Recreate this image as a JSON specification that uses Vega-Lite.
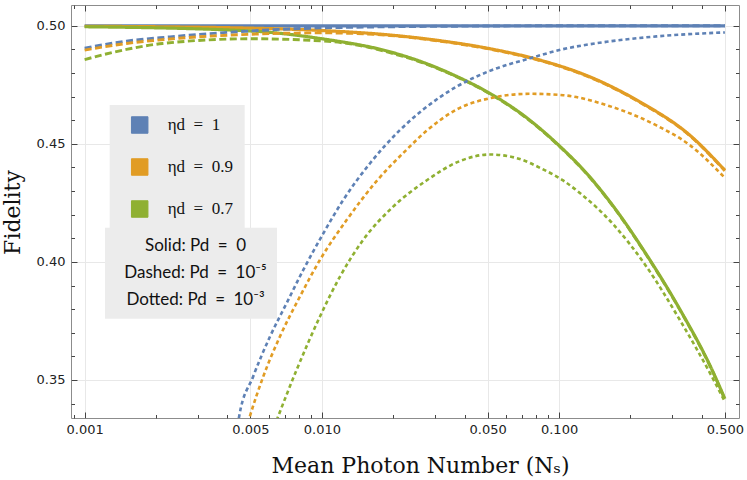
{
  "$schema": "https://vega.github.io/schema/vega-lite/v6.json",
  "width": 668,
  "height": 413,
  "autosize": "none",
  "padding": {"left": 71, "top": 5, "right": 8, "bottom": 62},
  "background": "white",
  "config": {
    "view": {"stroke": "#8c8c8c", "strokeWidth": 1},
    "axis": {
      "domain": false,
      "ticks": true,
      "tickColor": "#444444",
      "tickWidth": 1,
      "labelColor": "#222222",
      "labelFont": "DejaVu Sans",
      "labelFontSize": 13,
      "gridColor": "#e8e8e8",
      "gridWidth": 1,
      "titleColor": "#111111",
      "titleFont": "DejaVu Serif",
      "titleFontSize": 22,
      "titleFontWeight": "normal"
    }
  },
  "data": {
    "values": [
      {"N": 0.001, "F": 0.5, "eta": "1", "Pd": "0"},
      {"N": 0.003, "F": 0.5, "eta": "1", "Pd": "0"},
      {"N": 0.01, "F": 0.5, "eta": "1", "Pd": "0"},
      {"N": 0.03, "F": 0.5, "eta": "1", "Pd": "0"},
      {"N": 0.1, "F": 0.5, "eta": "1", "Pd": "0"},
      {"N": 0.3, "F": 0.5, "eta": "1", "Pd": "0"},
      {"N": 0.5, "F": 0.5, "eta": "1", "Pd": "0"},

      {"N": 0.001, "F": 0.4998, "eta": "0.9", "Pd": "0"},
      {"N": 0.005, "F": 0.499, "eta": "0.9", "Pd": "0"},
      {"N": 0.01, "F": 0.498, "eta": "0.9", "Pd": "0"},
      {"N": 0.01934, "F": 0.4961, "eta": "0.9", "Pd": "0"},
      {"N": 0.03143, "F": 0.4937, "eta": "0.9", "Pd": "0"},
      {"N": 0.05105, "F": 0.4903, "eta": "0.9", "Pd": "0"},
      {"N": 0.08291, "F": 0.4855, "eta": "0.9", "Pd": "0"},
      {"N": 0.1347, "F": 0.4784, "eta": "0.9", "Pd": "0"},
      {"N": 0.2188, "F": 0.4678, "eta": "0.9", "Pd": "0"},
      {"N": 0.3554, "F": 0.4537, "eta": "0.9", "Pd": "0"},
      {"N": 0.5, "F": 0.4388, "eta": "0.9", "Pd": "0"},

      {"N": 0.001, "F": 0.4996, "eta": "0.7", "Pd": "0"},
      {"N": 0.005, "F": 0.4978, "eta": "0.7", "Pd": "0"},
      {"N": 0.01, "F": 0.4945, "eta": "0.7", "Pd": "0"},
      {"N": 0.01934, "F": 0.489, "eta": "0.7", "Pd": "0"},
      {"N": 0.02673, "F": 0.4845, "eta": "0.7", "Pd": "0"},
      {"N": 0.03695, "F": 0.4786, "eta": "0.7", "Pd": "0"},
      {"N": 0.05105, "F": 0.4714, "eta": "0.7", "Pd": "0"},
      {"N": 0.07052, "F": 0.4622, "eta": "0.7", "Pd": "0"},
      {"N": 0.0975, "F": 0.4503, "eta": "0.7", "Pd": "0"},
      {"N": 0.1347, "F": 0.436, "eta": "0.7", "Pd": "0"},
      {"N": 0.1689, "F": 0.4237, "eta": "0.7", "Pd": "0"},
      {"N": 0.2335, "F": 0.4031, "eta": "0.7", "Pd": "0"},
      {"N": 0.3226, "F": 0.38, "eta": "0.7", "Pd": "0"},
      {"N": 0.4457, "F": 0.3534, "eta": "0.7", "Pd": "0"},
      {"N": 0.5, "F": 0.342, "eta": "0.7", "Pd": "0"},

      {"N": 0.001, "F": 0.4905, "eta": "1", "Pd": "1e-5"},
      {"N": 0.0015, "F": 0.4935, "eta": "1", "Pd": "1e-5"},
      {"N": 0.00229, "F": 0.4953, "eta": "1", "Pd": "1e-5"},
      {"N": 0.0035, "F": 0.4968, "eta": "1", "Pd": "1e-5"},
      {"N": 0.005, "F": 0.4978, "eta": "1", "Pd": "1e-5"},
      {"N": 0.0075, "F": 0.4987, "eta": "1", "Pd": "1e-5"},
      {"N": 0.01, "F": 0.4991, "eta": "1", "Pd": "1e-5"},
      {"N": 0.02, "F": 0.4996, "eta": "1", "Pd": "1e-5"},
      {"N": 0.05, "F": 0.4999, "eta": "1", "Pd": "1e-5"},
      {"N": 0.1, "F": 0.5, "eta": "1", "Pd": "1e-5"},
      {"N": 0.5, "F": 0.5, "eta": "1", "Pd": "1e-5"},

      {"N": 0.001, "F": 0.4897, "eta": "0.9", "Pd": "1e-5"},
      {"N": 0.0015, "F": 0.4925, "eta": "0.9", "Pd": "1e-5"},
      {"N": 0.00229, "F": 0.4944, "eta": "0.9", "Pd": "1e-5"},
      {"N": 0.005, "F": 0.4964, "eta": "0.9", "Pd": "1e-5"},
      {"N": 0.01, "F": 0.497, "eta": "0.9", "Pd": "1e-5"},
      {"N": 0.01934, "F": 0.4959, "eta": "0.9", "Pd": "1e-5"},
      {"N": 0.03143, "F": 0.4935, "eta": "0.9", "Pd": "1e-5"},
      {"N": 0.05105, "F": 0.4901, "eta": "0.9", "Pd": "1e-5"},
      {"N": 0.08291, "F": 0.4853, "eta": "0.9", "Pd": "1e-5"},
      {"N": 0.1347, "F": 0.4782, "eta": "0.9", "Pd": "1e-5"},
      {"N": 0.2188, "F": 0.4676, "eta": "0.9", "Pd": "1e-5"},
      {"N": 0.3554, "F": 0.4535, "eta": "0.9", "Pd": "1e-5"},
      {"N": 0.5, "F": 0.4386, "eta": "0.9", "Pd": "1e-5"},

      {"N": 0.001, "F": 0.4857, "eta": "0.7", "Pd": "1e-5"},
      {"N": 0.0015, "F": 0.49, "eta": "0.7", "Pd": "1e-5"},
      {"N": 0.00213, "F": 0.4925, "eta": "0.7", "Pd": "1e-5"},
      {"N": 0.005, "F": 0.4945, "eta": "0.7", "Pd": "1e-5"},
      {"N": 0.01, "F": 0.4936, "eta": "0.7", "Pd": "1e-5"},
      {"N": 0.0159, "F": 0.4908, "eta": "0.7", "Pd": "1e-5"},
      {"N": 0.01934, "F": 0.4886, "eta": "0.7", "Pd": "1e-5"},
      {"N": 0.02673, "F": 0.4843, "eta": "0.7", "Pd": "1e-5"},
      {"N": 0.03695, "F": 0.4784, "eta": "0.7", "Pd": "1e-5"},
      {"N": 0.05105, "F": 0.4712, "eta": "0.7", "Pd": "1e-5"},
      {"N": 0.07052, "F": 0.462, "eta": "0.7", "Pd": "1e-5"},
      {"N": 0.0975, "F": 0.4501, "eta": "0.7", "Pd": "1e-5"},
      {"N": 0.1347, "F": 0.4358, "eta": "0.7", "Pd": "1e-5"},
      {"N": 0.1689, "F": 0.4235, "eta": "0.7", "Pd": "1e-5"},
      {"N": 0.2335, "F": 0.4029, "eta": "0.7", "Pd": "1e-5"},
      {"N": 0.3226, "F": 0.3798, "eta": "0.7", "Pd": "1e-5"},
      {"N": 0.4457, "F": 0.3532, "eta": "0.7", "Pd": "1e-5"},
      {"N": 0.5, "F": 0.3418, "eta": "0.7", "Pd": "1e-5"},

      {"N": 0.0043, "F": 0.322, "eta": "1", "Pd": "1e-3"},
      {"N": 0.00448, "F": 0.3345, "eta": "1", "Pd": "1e-3"},
      {"N": 0.00513, "F": 0.3514, "eta": "1", "Pd": "1e-3"},
      {"N": 0.00604, "F": 0.3683, "eta": "1", "Pd": "1e-3"},
      {"N": 0.0071, "F": 0.3825, "eta": "1", "Pd": "1e-3"},
      {"N": 0.00834, "F": 0.3965, "eta": "1", "Pd": "1e-3"},
      {"N": 0.01013, "F": 0.412, "eta": "1", "Pd": "1e-3"},
      {"N": 0.0123, "F": 0.4262, "eta": "1", "Pd": "1e-3"},
      {"N": 0.01594, "F": 0.4417, "eta": "1", "Pd": "1e-3"},
      {"N": 0.02132, "F": 0.4558, "eta": "1", "Pd": "1e-3"},
      {"N": 0.02673, "F": 0.4645, "eta": "1", "Pd": "1e-3"},
      {"N": 0.03695, "F": 0.4742, "eta": "1", "Pd": "1e-3"},
      {"N": 0.05105, "F": 0.4809, "eta": "1", "Pd": "1e-3"},
      {"N": 0.07523, "F": 0.4862, "eta": "1", "Pd": "1e-3"},
      {"N": 0.104, "F": 0.4901, "eta": "1", "Pd": "1e-3"},
      {"N": 0.1584, "F": 0.4932, "eta": "1", "Pd": "1e-3"},
      {"N": 0.2574, "F": 0.4955, "eta": "1", "Pd": "1e-3"},
      {"N": 0.5, "F": 0.4972, "eta": "1", "Pd": "1e-3"},

      {"N": 0.0047, "F": 0.326, "eta": "0.9", "Pd": "1e-3"},
      {"N": 0.00497, "F": 0.3345, "eta": "0.9", "Pd": "1e-3"},
      {"N": 0.00566, "F": 0.3514, "eta": "0.9", "Pd": "1e-3"},
      {"N": 0.00665, "F": 0.3683, "eta": "0.9", "Pd": "1e-3"},
      {"N": 0.00808, "F": 0.3853, "eta": "0.9", "Pd": "1e-3"},
      {"N": 0.00981, "F": 0.4008, "eta": "0.9", "Pd": "1e-3"},
      {"N": 0.01271, "F": 0.4177, "eta": "0.9", "Pd": "1e-3"},
      {"N": 0.017, "F": 0.4342, "eta": "0.9", "Pd": "1e-3"},
      {"N": 0.02275, "F": 0.4475, "eta": "0.9", "Pd": "1e-3"},
      {"N": 0.02762, "F": 0.4555, "eta": "0.9", "Pd": "1e-3"},
      {"N": 0.03695, "F": 0.4645, "eta": "0.9", "Pd": "1e-3"},
      {"N": 0.05105, "F": 0.4693, "eta": "0.9", "Pd": "1e-3"},
      {"N": 0.07523, "F": 0.4712, "eta": "0.9", "Pd": "1e-3"},
      {"N": 0.104, "F": 0.4706, "eta": "0.9", "Pd": "1e-3"},
      {"N": 0.1584, "F": 0.4664, "eta": "0.9", "Pd": "1e-3"},
      {"N": 0.2574, "F": 0.4578, "eta": "0.9", "Pd": "1e-3"},
      {"N": 0.3554, "F": 0.4495, "eta": "0.9", "Pd": "1e-3"},
      {"N": 0.5, "F": 0.4356, "eta": "0.9", "Pd": "1e-3"},

      {"N": 0.006, "F": 0.3245, "eta": "0.7", "Pd": "1e-3"},
      {"N": 0.00654, "F": 0.3345, "eta": "0.7", "Pd": "1e-3"},
      {"N": 0.00782, "F": 0.3542, "eta": "0.7", "Pd": "1e-3"},
      {"N": 0.00981, "F": 0.3768, "eta": "0.7", "Pd": "1e-3"},
      {"N": 0.01191, "F": 0.3937, "eta": "0.7", "Pd": "1e-3"},
      {"N": 0.01493, "F": 0.4093, "eta": "0.7", "Pd": "1e-3"},
      {"N": 0.01998, "F": 0.4234, "eta": "0.7", "Pd": "1e-3"},
      {"N": 0.02762, "F": 0.4345, "eta": "0.7", "Pd": "1e-3"},
      {"N": 0.03815, "F": 0.4427, "eta": "0.7", "Pd": "1e-3"},
      {"N": 0.05105, "F": 0.4455, "eta": "0.7", "Pd": "1e-3"},
      {"N": 0.06614, "F": 0.444, "eta": "0.7", "Pd": "1e-3"},
      {"N": 0.0856, "F": 0.4392, "eta": "0.7", "Pd": "1e-3"},
      {"N": 0.104, "F": 0.4345, "eta": "0.7", "Pd": "1e-3"},
      {"N": 0.1223, "F": 0.4292, "eta": "0.7", "Pd": "1e-3"},
      {"N": 0.1689, "F": 0.416, "eta": "0.7", "Pd": "1e-3"},
      {"N": 0.2335, "F": 0.398, "eta": "0.7", "Pd": "1e-3"},
      {"N": 0.3226, "F": 0.3755, "eta": "0.7", "Pd": "1e-3"},
      {"N": 0.4457, "F": 0.3505, "eta": "0.7", "Pd": "1e-3"},
      {"N": 0.5, "F": 0.3408, "eta": "0.7", "Pd": "1e-3"}
    ]
  },
  "layer": [
    {
      "mark": {"type": "line", "clip": true, "interpolate": "monotone"},
      "encoding": {
        "x": {
          "field": "N",
          "type": "quantitative",
          "scale": {"type": "log", "domain": [0.000876, 0.5734], "nice": false},
          "axis": {
            "orient": "bottom",
            "values": [0.001, 0.005, 0.01, 0.05, 0.1, 0.5],
            "format": ".3f",
            "grid": true,
            "ticks": false,
            "labelPadding": 5,
            "title": "Mean Photon Number (Nₛ)",
            "titleX": 349,
            "titleY": 54,
            "titleAlign": "center",
            "titleBaseline": "alphabetic"
          }
        },
        "y": {
          "field": "F",
          "type": "quantitative",
          "scale": {"domain": [0.3339, 0.5088], "nice": false, "zero": false},
          "axis": {
            "orient": "left",
            "values": [0.35, 0.4, 0.45, 0.5],
            "format": ".2f",
            "grid": true,
            "ticks": false,
            "labelPadding": 6,
            "title": "Fidelity",
            "titleX": -52,
            "titleY": 207,
            "titleAngle": -90,
            "titleAlign": "center",
            "titleBaseline": "alphabetic"
          }
        },
        "color": {
          "field": "eta",
          "type": "nominal",
          "scale": {"domain": ["1", "0.9", "0.7"], "range": ["#5E81B5", "#E19C24", "#8FB032"]},
          "legend": {
            "orient": "none",
            "legendX": 38.7,
            "legendY": 100,
            "title": null,
            "symbolType": "square",
            "symbolSize": 272,
            "symbolOffset": 10,
            "labelOffset": 19,
            "padding": 11,
            "rowPadding": 20,
            "fillColor": "#ececec",
            "labelFont": "Liberation Serif",
            "labelFontSize": 17,
            "labelColor": "#111111",
            "labelExpr": "'ηd\u2002=\u2002' + datum.label + '\u00a0\u00a0\u00a0'",
            "encode": {
              "symbols": {
                "update": {
                  "fill": {"scale": "color", "field": "value"},
                  "stroke": {"value": "#55698c"},
                  "strokeWidth": {"value": 1},
                  "opacity": {"value": 1}
                }
              }
            }
          }
        },
        "strokeDash": {
          "field": "Pd",
          "type": "nominal",
          "scale": {"domain": ["0", "1e-5", "1e-3"], "range": [[1, 0], [7, 3.5], [4, 3]]},
          "legend": {
            "orient": "none",
            "legendX": 34,
            "legendY": 222.7,
            "title": null,
            "symbolType": "stroke",
            "symbolSize": 0,
            "symbolOpacity": 0,
            "symbolStrokeWidth": 0,
            "symbolOffset": 0,
            "labelOffset": 63.5,
            "labelAlign": "center",
            "labelLimit": 300,
            "padding": 10,
            "rowPadding": 9,
            "fillColor": "#ececec",
            "labelFont": "Lato",
            "labelFontSize": 17,
            "labelColor": "#111111",
            "labelExpr": "datum.label == '0' ? 'Solid: Pd\u2002=\u20020' : datum.label == '1e-5' ? 'Dashed: Pd\u2002=\u200210⁻⁵' : 'Dotted: Pd\u2002=\u200210⁻³'"
          }
        },
        "strokeWidth": {
          "field": "Pd",
          "type": "nominal",
          "scale": {"domain": ["0", "1e-5", "1e-3"], "range": [3.2, 2.6, 2.6]},
          "legend": null
        }
      }
    },
    {
      "mark": {"type": "line", "opacity": 0},
      "encoding": {
        "x": {
          "field": "N",
          "type": "quantitative",
          "scale": {"type": "log", "domain": [0.000876, 0.5734], "nice": false},
          "axis": {
            "orient": "bottom",
            "values": [0.001, 0.005, 0.01, 0.05, 0.1, 0.5],
            "offset": -6,
            "tickSize": 6,
            "labels": false,
            "grid": false,
            "title": null
          }
        },
        "y": {
          "field": "F",
          "type": "quantitative",
          "scale": {"domain": [0.3339, 0.5088], "nice": false, "zero": false},
          "axis": {
            "orient": "left",
            "values": [0.35, 0.4, 0.45, 0.5],
            "offset": -6,
            "tickSize": 6,
            "labels": false,
            "grid": false,
            "title": null
          }
        }
      }
    },
    {
      "mark": {"type": "line", "opacity": 0},
      "encoding": {
        "x": {
          "field": "N",
          "type": "quantitative",
          "scale": {"type": "log", "domain": [0.000876, 0.5734], "nice": false},
          "axis": {
            "orient": "bottom",
            "values": [0.0009, 0.002, 0.003, 0.004, 0.006, 0.007, 0.008, 0.009, 0.02, 0.03, 0.04, 0.06, 0.07, 0.08, 0.09, 0.2, 0.3, 0.4],
            "offset": -3.5,
            "tickSize": 3.5,
            "labels": false,
            "grid": false,
            "title": null
          }
        },
        "y": {
          "field": "F",
          "type": "quantitative",
          "scale": {"domain": [0.3339, 0.5088], "nice": false, "zero": false},
          "axis": {
            "orient": "left",
            "values": [0.34, 0.36, 0.37, 0.38, 0.39, 0.41, 0.42, 0.43, 0.44, 0.46, 0.47, 0.48, 0.49],
            "offset": -3.5,
            "tickSize": 3.5,
            "labels": false,
            "grid": false,
            "title": null
          }
        }
      }
    },
    {
      "mark": {"type": "line", "opacity": 0},
      "encoding": {
        "x": {
          "field": "N",
          "type": "quantitative",
          "scale": {"type": "log", "domain": [0.000876, 0.5734], "nice": false},
          "axis": {
            "orient": "top",
            "values": [0.001, 0.005, 0.01, 0.05, 0.1, 0.5],
            "offset": -6,
            "tickSize": 6,
            "labels": false,
            "grid": false,
            "title": null
          }
        },
        "y": {
          "field": "F",
          "type": "quantitative",
          "scale": {"domain": [0.3339, 0.5088], "nice": false, "zero": false},
          "axis": {
            "orient": "right",
            "values": [0.35, 0.4, 0.45, 0.5],
            "offset": -6,
            "tickSize": 6,
            "labels": false,
            "grid": false,
            "title": null
          }
        }
      }
    },
    {
      "mark": {"type": "line", "opacity": 0},
      "encoding": {
        "x": {
          "field": "N",
          "type": "quantitative",
          "scale": {"type": "log", "domain": [0.000876, 0.5734], "nice": false},
          "axis": {
            "orient": "top",
            "values": [0.0009, 0.002, 0.003, 0.004, 0.006, 0.007, 0.008, 0.009, 0.02, 0.03, 0.04, 0.06, 0.07, 0.08, 0.09, 0.2, 0.3, 0.4],
            "offset": -3.5,
            "tickSize": 3.5,
            "labels": false,
            "grid": false,
            "title": null
          }
        },
        "y": {
          "field": "F",
          "type": "quantitative",
          "scale": {"domain": [0.3339, 0.5088], "nice": false, "zero": false},
          "axis": {
            "orient": "right",
            "values": [0.34, 0.36, 0.37, 0.38, 0.39, 0.41, 0.42, 0.43, 0.44, 0.46, 0.47, 0.48, 0.49],
            "offset": -3.5,
            "tickSize": 3.5,
            "labels": false,
            "grid": false,
            "title": null
          }
        }
      }
    }
  ],
  "resolve": {"axis": {"x": "independent", "y": "independent"}}
}
